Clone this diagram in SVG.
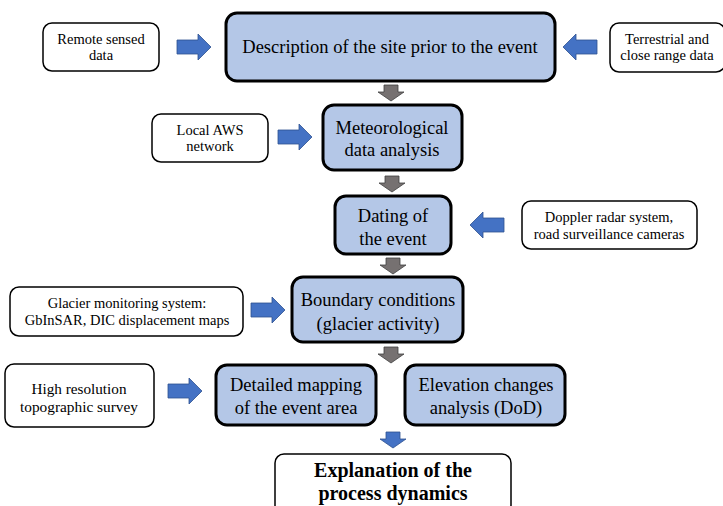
<svg xmlns="http://www.w3.org/2000/svg" width="723" height="506" viewBox="0 0 723 506">
<style>
.main{fill:#b4c7e7;stroke:#000;stroke-width:3}
.side{fill:#fff;stroke:#000;stroke-width:1.5}
.t{font-family:"Liberation Serif",serif;text-anchor:middle;fill:#000}
.tm{font-size:18.5px}
.ts{font-size:14.5px}
.tb{font-size:20px;font-weight:bold}
.ba{fill:#4472c4;stroke:#2f528f;stroke-width:0.8}
.ga{fill:#767171;stroke:#404040;stroke-width:0.8}
</style>
<defs>
<path id="ar" d="M-17,-7 H4 V-13 L17,0 L4,13 V7 H-17 Z"/>
<path id="al" d="M17,-7 H-4 V-13 L-17,0 L-4,13 V7 H17 Z"/>
<path id="ad" d="M-7,-8 H7 V-1 H13 L0,8 L-13,-1 H-7 Z"/>
</defs>
<g id="n1"><rect class="main" x="226" y="13" width="329" height="68" rx="11"/><text class="t tm" x="390" y="53">Description of the site prior to the event</text></g>
<g id="n_remote"><rect class="side" x="43" y="23" width="116" height="48" rx="9"/><text class="t ts" x="101" y="44">Remote sensed</text><text class="t ts" x="101" y="60">data</text></g>
<g id="n_terr"><rect class="side" x="610" y="23" width="115" height="49" rx="9"/><text class="t ts" x="667" y="44">Terrestrial and</text><text class="t ts" x="667" y="60">close range data</text></g>
<g id="n2"><rect class="main" x="323" y="105" width="139" height="65" rx="11"/><text class="t tm" x="392" y="134">Meteorological</text><text class="t tm" x="392" y="156">data analysis</text></g>
<g id="n_aws"><rect class="side" x="152" y="114" width="116" height="48" rx="9"/><text class="t ts" x="210" y="135">Local AWS</text><text class="t ts" x="210" y="151">network</text></g>
<g id="n3"><rect class="main" x="335" y="196" width="116" height="58" rx="11"/><text class="t tm" x="393" y="222">Dating of</text><text class="t tm" x="393" y="245">the event</text></g>
<g id="n_doppler"><rect class="side" x="522" y="201" width="175" height="48" rx="9"/><text class="t ts" x="609" y="222">Doppler radar system,</text><text class="t ts" x="609" y="239">road surveillance cameras</text></g>
<g id="n4"><rect class="main" x="292" y="277" width="171" height="65" rx="11"/><text class="t tm" x="378" y="306">Boundary conditions</text><text class="t tm" x="378" y="330">(glacier activity)</text></g>
<g id="n_glacier"><rect class="side" x="10" y="287" width="233" height="49" rx="9"/><text class="t ts" x="127" y="308">Glacier monitoring system:</text><text class="t ts" x="127" y="325">GbInSAR, DIC displacement maps</text></g>
<g id="n5"><rect class="main" x="216" y="365" width="160" height="60" rx="11"/><text class="t tm" x="296" y="391">Detailed mapping</text><text class="t tm" x="296" y="414">of the event area</text></g>
<g id="n6"><rect class="main" x="405" y="365" width="160" height="60" rx="11"/><text class="t tm" x="486" y="391">Elevation changes</text><text class="t tm" x="486" y="414">analysis (DoD)</text></g>
<g id="n_hr"><rect class="side" x="5" y="364" width="149" height="63" rx="9"/><text class="t ts" x="79" y="394" textLength="95" lengthAdjust="spacingAndGlyphs">High resolution</text><text class="t ts" x="79" y="412" textLength="118" lengthAdjust="spacingAndGlyphs">topographic survey</text></g>
<g id="n7"><rect class="side" x="275" y="454" width="236" height="60" rx="9"/><text class="t tb" x="393" y="477">Explanation of the</text><text class="t tb" x="393" y="500">process dynamics</text></g>
<g id="connectors">
<use href="#ar" class="ba" x="194" y="47"/>
<use href="#al" class="ba" x="580" y="47"/>
<use href="#ar" class="ba" x="295" y="137"/>
<use href="#al" class="ba" x="487" y="225"/>
<use href="#ar" class="ba" x="268" y="310"/>
<use href="#ar" class="ba" x="185" y="391"/>
<use href="#ad" class="ga" x="391" y="93"/>
<use href="#ad" class="ga" x="392" y="184"/>
<use href="#ad" class="ga" x="393" y="266"/>
<use href="#ad" class="ga" x="391" y="355"/>
<use href="#ad" class="ba" x="393" y="440"/>
</g>
</svg>
